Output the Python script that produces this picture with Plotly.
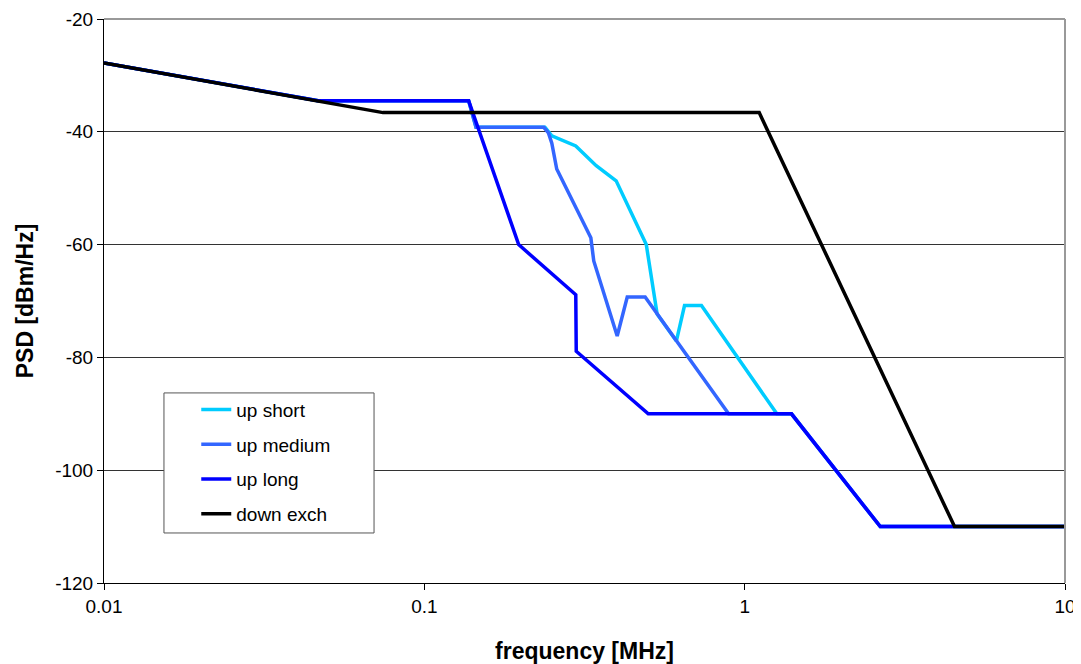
import plotly.graph_objects as go

# Data (frequency MHz, PSD dBm/Hz)
up_short_f = [0.01, 0.0466, 0.1375, 0.145, 0.238, 0.25, 0.297, 0.344, 0.397, 0.493, 0.533, 0.612, 0.649, 0.733, 1.26, 1.40, 2.65, 10]
up_short_p = [-27.8, -34.5, -34.5, -39.2, -39.2, -40.7, -42.5, -46.0, -48.7, -60.0, -72.3, -77.1, -70.8, -70.8, -90.0, -90.0, -110.0, -110.0]

up_medium_f = [0.01, 0.0466, 0.1375, 0.145, 0.236, 0.244, 0.250, 0.259, 0.331, 0.338, 0.400, 0.430, 0.489, 0.891, 1.40, 2.65, 10]
up_medium_p = [-27.8, -34.5, -34.5, -39.2, -39.2, -40.2, -42.0, -46.6, -58.8, -62.9, -76.2, -69.3, -69.3, -90.0, -90.0, -110.0, -110.0]

up_long_f = [0.01, 0.0466, 0.1375, 0.197, 0.297, 0.298, 0.50, 1.40, 2.65, 10]
up_long_p = [-27.8, -34.5, -34.5, -60.0, -68.9, -78.9, -90.0, -90.0, -110.0, -110.0]

down_exch_f = [0.01, 0.0743, 1.11, 4.52, 10]
down_exch_p = [-27.8, -36.6, -36.6, -110.0, -110.0]

series = [
    ("up short", up_short_f, up_short_p, "#00CCFF"),
    ("up medium", up_medium_f, up_medium_p, "#3366FF"),
    ("up long", up_long_f, up_long_p, "#0000FF"),
    ("down exch", down_exch_f, down_exch_p, "#000000"),
]

y_ticks = [-20, -40, -60, -80, -100, -120]
y_tick_labels = ["-20", "-40", "-60", "-80", "-100", "-120"]
x_ticks = [0.01, 0.1, 1, 10]
x_tick_labels = ["0.01", "0.1", "1", "10"]

fig = go.Figure()
for i, (name, f, p, c) in enumerate(series):
    fig.add_trace(go.Scatter(x=f, y=p, mode="lines", name=name,
                             line=dict(color=c, width=3.5),
                             legendgroup=f"g{i}"))

font_family = "Liberation Sans, Arial, sans-serif"

fig.update_layout(
    width=1081, height=656,
    margin=dict(l=96, r=24, t=11, b=81),
    paper_bgcolor="white", plot_bgcolor="white",
    font=dict(family=font_family, size=19, color="black"),
    showlegend=True,
    legend=dict(x=0.096, y=0.341, xanchor="left", yanchor="top",
                bgcolor="rgba(0,0,0,0)", borderwidth=0,
                font=dict(size=19), tracegroupgap=7,
                itemwidth=30),
    xaxis=dict(type="log", range=[-2, 1], tickvals=x_ticks, ticktext=x_tick_labels,
               showgrid=False, showline=True, linecolor="black", linewidth=1,
               ticks="outside", ticklen=6, tickcolor="black", mirror=False,
               zeroline=False, automargin=False,
               title=dict(text="<b>frequency [MHz]</b>", font=dict(size=23), standoff=33)),
    yaxis=dict(range=[-120, -20], tickvals=y_ticks, ticktext=y_tick_labels,
               showgrid=True, gridcolor="#333333",
               gridwidth=1, showline=True, linecolor="black", linewidth=1,
               ticks="outside", ticklen=6, tickcolor="black", zeroline=False,
               automargin=False,
               title=dict(text="<b>PSD [dBm/Hz]</b>", font=dict(size=23), standoff=15)),
    shapes=[
        # grey top and right frame of the plot area
        dict(type="line", xref="paper", yref="paper", x0=0, x1=1, y0=1, y1=1,
             line=dict(color="#999999", width=2)),
        dict(type="line", xref="paper", yref="paper", x0=1, x1=1, y0=0, y1=1,
             line=dict(color="#999999", width=2)),
        # legend frame
        dict(type="rect", xref="paper", yref="paper", x0=0.0624, x1=0.281, y0=0.0887, y1=0.337,
             line=dict(color="#555555", width=1), fillcolor="white", layer="above"),
    ],
)

fig.write_html("out.html", post_script="document.body.style.overflow='hidden';")
